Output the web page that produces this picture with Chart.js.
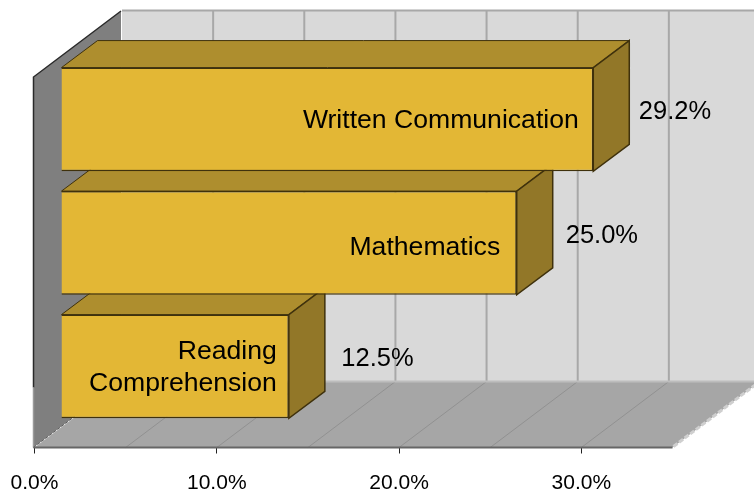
<!DOCTYPE html>
<html>
<head>
<meta charset="utf-8">
<style>html,body{margin:0;padding:0;background:#fff;overflow:hidden}canvas{display:block}</style>
<script src="https://cdn.jsdelivr.net/npm/chart.js@4"></script>
</head>
<body>
<canvas id="c" width="754" height="491"></canvas>
<script>
// Drawn bottom-up so that each higher bar's front covers the top of the bar below.
const categories = [["Reading", "Comprehension"], ["Mathematics"], ["Written Communication"]];
const values = [12.5, 25.0, 29.2];
const gridValues = [0, 5, 10, 15, 20, 25, 30, 35];
const axisMax = 35;
const tickStep = 10;

const FONT = '"Liberation Sans", Arial, sans-serif';
const WALL = {dx: 87.5, dy: -66};
const BAR_SHIFT = {dx: 26.5, dy: -19.3};
const BAR_DEPTH = {dx: 36, dy: -27};
const EDGE = '#3f310c';
const VALUE_GAP = [52.5, 49, 45.5];
const NAME_INSET = [12, 16.5, 14.5];
const NAME_NUDGE = [1.5, 4.5, 1.5];

function poly(ctx, pts, fill, stroke, lw) {
  ctx.beginPath();
  pts.forEach((p, i) => i ? ctx.lineTo(p[0], p[1]) : ctx.moveTo(p[0], p[1]));
  ctx.closePath();
  if (fill) { ctx.fillStyle = fill; ctx.fill(); }
  if (stroke) { ctx.strokeStyle = stroke; ctx.lineWidth = lw || 1; ctx.stroke(); }
}

const box3d = {
  id: 'box3d',
  beforeDatasetsDraw(chart) {
    const {ctx, chartArea: a, scales: {x}} = chart;
    const r = x.getPixelForValue(axisMax), l = x.getPixelForValue(0), b = a.bottom, t = a.top;
    const dx = WALL.dx, dy = WALL.dy;
    ctx.save();
    // back wall
    poly(ctx, [[l + dx, t + dy], [r + dx, t + dy], [r + dx, b + dy], [l + dx, b + dy]], '#d9d9d9');
    ctx.strokeStyle = '#a8a8a8'; ctx.lineWidth = 2;
    ctx.beginPath(); ctx.moveTo(l + dx, t + dy - 0.5); ctx.lineTo(r + dx, t + dy - 0.5); ctx.stroke();
    gridValues.slice(1, -1).forEach(v => {
      const p = x.getPixelForValue(v) + dx;
      ctx.beginPath(); ctx.moveTo(p, t + dy); ctx.lineTo(p, b + dy); ctx.stroke();
    });
    // floor
    poly(ctx, [[l, b], [r, b], [r + dx, b + dy], [l + dx, b + dy]], '#a6a6a6');
    ctx.strokeStyle = '#cfcfcf'; ctx.lineWidth = 3; ctx.setLineDash([5, 2]);
    ctx.beginPath(); ctx.moveTo(r + 1, b - 1); ctx.lineTo(r + dx + 1, b + dy - 1); ctx.stroke();
    ctx.setLineDash([]);
    ctx.strokeStyle = '#919191'; ctx.lineWidth = 1;
    gridValues.slice(1, -1).forEach(v => {
      const p = x.getPixelForValue(v);
      ctx.beginPath(); ctx.moveTo(p, b); ctx.lineTo(p + dx, b + dy); ctx.stroke();
    });
    ctx.strokeStyle = '#bdbdbd'; ctx.lineWidth = 2;
    ctx.beginPath(); ctx.moveTo(l, b + dy); ctx.lineTo(r + dx, b + dy); ctx.stroke();
    // left wall
    poly(ctx, [[l - 1, t], [l + dx - 1, t + dy], [l + dx - 1, b + dy], [l - 1, b]], '#7f7f7f');
    ctx.strokeStyle = '#2a2a2a'; ctx.lineWidth = 1.5;
    ctx.beginPath(); ctx.moveTo(l - 1, b - 60); ctx.lineTo(l - 1, t); ctx.lineTo(l + dx - 1, t + dy); ctx.stroke();
    ctx.strokeStyle = '#9a9a9a'; ctx.lineWidth = 1.5;
    ctx.beginPath(); ctx.moveTo(l - 1, b); ctx.lineTo(l - 1, b - 60); ctx.stroke();
    ctx.strokeStyle = '#555'; ctx.lineWidth = 1; ctx.setLineDash([3, 2]);
    ctx.beginPath(); ctx.moveTo(l - 1, b); ctx.lineTo(l + dx - 1, b + dy); ctx.stroke();
    ctx.setLineDash([]);
    // floor front edge
    ctx.strokeStyle = '#666'; ctx.lineWidth = 2;
    ctx.beginPath(); ctx.moveTo(l - 1, b); ctx.lineTo(r, b); ctx.stroke();
    ctx.restore();
  },
  beforeDatasetDraw(chart) {
    const {ctx} = chart;
    const d = BAR_DEPTH, s = BAR_SHIFT;
    chart.getDatasetMeta(0).data.forEach(el => {
      const {x, y, base, height} = el.getProps(['x', 'y', 'base', 'height'], true);
      const L = base + s.dx, R = x + s.dx, T = y - height / 2 + s.dy, B = y + height / 2 + s.dy;
      poly(ctx, [[L, T], [R, T], [R + d.dx, T + d.dy], [L + d.dx, T + d.dy]], '#ae8e2e', EDGE, 1);
      poly(ctx, [[R, T], [R + d.dx, T + d.dy], [R + d.dx, B + d.dy], [R, B]], '#927728', EDGE, 1.5);
    });
    ctx.save();
    ctx.translate(s.dx, s.dy);
  },
  afterDatasetDraw(chart) {
    chart.ctx.restore();
  },
  afterDatasetsDraw(chart) {
    const {ctx} = chart;
    const s = BAR_SHIFT;
    ctx.save();
    ctx.fillStyle = '#000';
    ctx.textBaseline = 'middle';
    chart.getDatasetMeta(0).data.forEach((el, i) => {
      const {x, y} = el.getProps(['x', 'y'], true);
      const R = x + s.dx, cy = y + s.dy;
      const lines = categories[i];
      ctx.font = '26.6px ' + FONT;
      ctx.textAlign = 'right';
      lines.forEach((line, k) => {
        const ly = cy + (k - (lines.length - 1) / 2) * 32 + NAME_NUDGE[i];
        ctx.fillText(line, R - NAME_INSET[i], ly);
      });
      ctx.font = '25.5px ' + FONT;
      ctx.textAlign = 'left';
      ctx.fillText(values[i].toFixed(1) + '%', R + VALUE_GAP[i], cy - 7);
    });
    ctx.restore();
  }
};

new Chart(document.getElementById('c'), {
  type: 'bar',
  data: {
    labels: categories,
    datasets: [{
      data: values,
      backgroundColor: '#e3b735',
      borderColor: EDGE,
      borderWidth: 1.5,
      barPercentage: 0.84,
      categoryPercentage: 1,
      clip: false
    }]
  },
  plugins: [box3d],
  options: {
    indexAxis: 'y',
    responsive: false,
    animation: false,
    layout: {padding: {left: 0, right: 81.5, top: 77, bottom: 0}},
    plugins: {legend: {display: false}, tooltip: {enabled: false}, title: {display: false}},
    scales: {
      x: {
        type: 'linear', min: 0, max: axisMax,
        afterFit(scale) { scale.height = 43.5; scale.paddingLeft = 34.5; scale.paddingRight = 0; },
        border: {display: false},
        grid: {drawOnChartArea: false, drawTicks: true, tickLength: 6, color: '#222', lineWidth: 1},
        ticks: {
          stepSize: tickStep, includeBounds: false, maxRotation: 0, padding: 17,
          color: '#000', font: {family: FONT, size: 21},
          callback: v => v.toFixed(1) + '%'
        }
      },
      y: {reverse: true, display: false}
    }
  }
});
</script>
</body>
</html>
